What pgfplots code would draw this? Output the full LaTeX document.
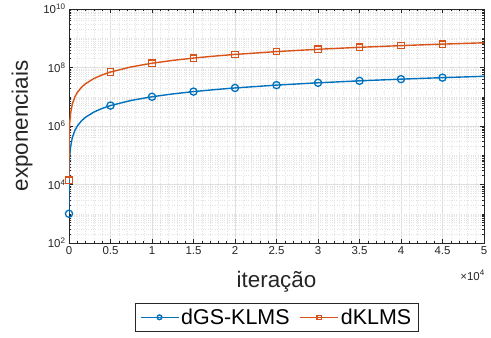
\documentclass[border=0pt]{standalone}
\usepackage{pgfplots}
\pgfplotsset{compat=1.18}
\usepackage{fontspec}
\setmainfont{Liberation Sans}
\definecolor{mblue}{rgb}{0,0.447,0.741}
\definecolor{morange}{rgb}{0.85,0.325,0.098}
\definecolor{axgray}{rgb}{0.15,0.15,0.15}
\begin{document}
\begin{tikzpicture}
\begin{axis}[
  name=ax,
  scale only axis,
  width=415bp, height=234bp,
  ymode=log,
  xmin=0, xmax=50000,
  ymin=1e2, ymax=1e10,
  xtick={0,5000,10000,15000,20000,25000,30000,35000,40000,45000,50000},
  xticklabels={0,0.5,1,1.5,2,2.5,3,3.5,4,4.5,5},
  scaled x ticks=false,
  minor x tick num=4,
  ytick={1e2,1e4,1e6,1e8,1e10},
  yticklabels={10\textsuperscript{2},10\textsuperscript{4},10\textsuperscript{6},10\textsuperscript{8},10\textsuperscript{10}},
  minor ytick={2e2,3e2,4e2,5e2,6e2,7e2,8e2,9e2,1e3,2e3,3e3,4e3,5e3,6e3,7e3,8e3,9e3,
    2e4,3e4,4e4,5e4,6e4,7e4,8e4,9e4,1e5,2e5,3e5,4e5,5e5,6e5,7e5,8e5,9e5,
    2e6,3e6,4e6,5e6,6e6,7e6,8e6,9e6,1e7,2e7,3e7,4e7,5e7,6e7,7e7,8e7,9e7,
    2e8,3e8,4e8,5e8,6e8,7e8,8e8,9e8,1e9,2e9,3e9,4e9,5e9,6e9,7e9,8e9,9e9},
  tick align=inside,
  tick pos=both,
  major tick length=4bp,
  minor tick length=2.2bp,
  every tick/.style={axgray, line width=0.5bp},
  axis line style={axgray, line width=0.6bp},
  grid=both,
  major grid style={gray!25, line width=0.5bp},
  minor grid style={gray!22, dotted, line width=0.4bp},
  ticklabel style={font=\fontsize{11.5}{12}\selectfont, text=axgray},
  xlabel={iteração},
  ylabel={exponenciais},
  label style={font=\fontsize{22.5}{24}\selectfont, text=axgray},
  xlabel style={at={(axis description cs:0.5,-0.167)}, anchor=center},
  ylabel style={at={(axis description cs:-0.113,0.5)}, anchor=center},
  legend columns=2,
  legend style={at={(0.5,-0.2564)}, anchor=north, draw=axgray, line width=0.6bp,
    font=\fontsize{21.5}{23}\selectfont, inner xsep=5bp, inner ysep=3.5bp,
    /tikz/every odd column/.append style={column sep=0bp},
    /tikz/every even column/.append style={column sep=8bp}},
  legend cell align=left,
  legend image code/.code={
    \draw[mark indices={2}, mark options={scale=0.65}] plot coordinates {(0bp,0bp) (19bp,0bp) (38bp,0bp)};
  },
]
\addplot[mblue, line width=1.4bp, mark=o, mark size=3.6bp,
  mark options={line width=1.3bp},
  mark indices={1,16,18,20,22,23,24,25,26,27}] coordinates {
(1,1000) (2,2000) (5,5000) (10,1e4) (20,2e4) (50,5e4) (100,1e5) (200,2e5)
(400,4e5) (700,7e5) (1000,1e6) (1500,1.5e6) (2000,2e6) (3000,3e6) (4000,4e6)
(5000,5e6) (7500,7.5e6) (10000,1e7) (12500,1.25e7) (15000,1.5e7) (17500,1.75e7)
(20000,2e7) (25000,2.5e7) (30000,3e7) (35000,3.5e7) (40000,4e7) (45000,4.5e7) (50000,5e7)
};
\addlegendentry{dGS-KLMS}
\addplot[morange, line width=1.4bp, mark=square, mark size=3.2bp,
  mark options={line width=1.3bp},
  mark indices={1,16,18,20,22,23,24,25,26,27}] coordinates {
(1,1.4e4) (2,2.8e4) (5,7e4) (10,1.4e5) (20,2.8e5) (50,7e5) (100,1.4e6) (200,2.8e6)
(400,5.6e6) (700,9.8e6) (1000,1.4e7) (1500,2.1e7) (2000,2.8e7) (3000,4.2e7) (4000,5.6e7)
(5000,7e7) (7500,1.05e8) (10000,1.4e8) (12500,1.75e8) (15000,2.1e8) (17500,2.45e8)
(20000,2.8e8) (25000,3.5e8) (30000,4.2e8) (35000,4.9e8) (40000,5.6e8) (45000,6.3e8) (50000,7e8)
};
\addlegendentry{dKLMS}
\end{axis}
\node[anchor=north east, font=\fontsize{11.5}{12}\selectfont, text=axgray, inner sep=0pt]
  at ([xshift=1bp,yshift=-27bp]ax.south east) {×10\textsuperscript{4}};
\path ([xshift=-69bp,yshift=-94bp]ax.south west) rectangle ([xshift=7bp,yshift=9bp]ax.north east);
\end{tikzpicture}
\end{document}
